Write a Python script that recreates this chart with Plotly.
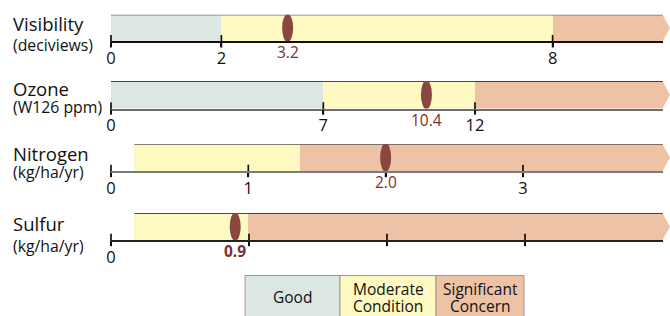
import plotly.graph_objects as go

# ---------------- data ----------------
indicators = ["Visibility", "Ozone", "Nitrogen", "Sulfur"]
units = ["(deciviews)", "(W126 ppm)", "(kg/ha/yr)", "(kg/ha/yr)"]
values = [3.2, 10.4, 2.0, 0.9]
value_labels = ["3.2", "10.4", "2.0", "0.9"]
scale_max = [10.0, 18.2, 4.02, 4.0]
# condition segments per indicator: (start, end) or None
good_seg = [(0, 2), (0, 7), None, None]
moderate_seg = [(2, 8), (7, 12), (0.17, 1.38), (0.17, 0.99)]
concern_start = [8, 12, 1.38, 0.99]
tick_vals = [[0, 2, 8], [0, 7, 12], [0, 1, 2, 3], [0, 1, 2, 3]]
tick_text = [["0", "2", "8"], ["0", "7", "12"], ["0", "1", "", "3"], ["0", "", "", ""]]
legend_lines = [["Good"], ["Moderate", "Condition"], ["Significant", "Concern"]]

# ---------------- styles ----------------
W, H = 670, 316
C_GOOD = "#dce6e2"
C_MOD = "#fef8c1"
C_CON = "#edc2a5"
C_MARK = "#8b463f"
C_VTXT = "#7e2e2e"
FONT = "Open Sans"
row_px = [(14.7, 41.3), (81, 108.5), (144, 171), (213.3, 240)]  # top, bottom
x_px = (111, 663)
tip_px = 670
top_line_col = ["#7a7a7a", "#111111", "#555555", "#111111"]
axis_line_col = ["#111111", "#6e6e6e", "#7a7a7a", "#222222"]
title_y = [23.5, 89, 153, 223]
sub_y = [45, 107, 172, 246]
bold_value = [False, False, False, True]


def px_x(x):
    return x / W


def px_y(y):
    return 1 - y / H


fig = go.Figure()
shapes = []
annotations = []
layout_axes = {}

for i, name in enumerate(indicators):
    n = i + 1
    xa = "x" if n == 1 else f"x{n}"
    ya = "y" if n == 1 else f"y{n}"
    segs = []
    if good_seg[i]:
        segs.append((good_seg[i][0], good_seg[i][1], C_GOOD))
    segs.append((moderate_seg[i][0], moderate_seg[i][1], C_MOD))
    segs.append((concern_start[i], scale_max[i], C_CON))
    for s, e, c in segs:
        fig.add_trace(go.Bar(
            orientation="h", y=[0], x=[e - s], base=[s], width=[1],
            marker=dict(color=c, line=dict(width=0)),
            xaxis=xa, yaxis=ya, showlegend=False, hoverinfo="skip"))
    # tick marks straddling the axis line
    fig.add_trace(go.Scatter(
        x=tick_vals[i], y=[-0.5] * len(tick_vals[i]), mode="markers",
        marker=dict(symbol="line-ns", size=9, line=dict(width=1.7, color="#111")),
        xaxis=xa, yaxis=ya, showlegend=False, hoverinfo="skip", cliponaxis=False))

    top, bot = row_px[i]
    layout_axes["xaxis" if n == 1 else f"xaxis{n}"] = dict(
        domain=[px_x(x_px[0]), px_x(x_px[1])], range=[0, scale_max[i]],
        anchor=ya, showline=True, linecolor=axis_line_col[i], linewidth=1.5,
        ticks="outside", ticklen=4, tickwidth=1.7, tickcolor="#111",
        ticklabelstandoff=-3, automargin=False,
        tickvals=tick_vals[i], ticktext=tick_text[i],
        tickfont=dict(family=FONT, size=16.5, color="#111"),
        showgrid=False, zeroline=False, fixedrange=True)
    layout_axes["yaxis" if n == 1 else f"yaxis{n}"] = dict(
        domain=[px_y(bot), px_y(top)], range=[-0.5, 0.5], anchor=xa,
        visible=False, fixedrange=True, automargin=False)

    first_start = segs[0][0]
    # top border line
    shapes.append(dict(type="line", xref=xa, yref=ya, x0=first_start, x1=scale_max[i],
                       y0=0.5, y1=0.5, line=dict(color=top_line_col[i], width=1.5)))
    # arrow tip at the end of the scale (decoration, paper coords)
    mid = (top + bot) / 2
    shapes.append(dict(type="path", xref="paper", yref="paper",
                       path=(f"M{px_x(x_px[1] - 0.5)},{px_y(top)} L{px_x(tip_px)},{px_y(mid)} "
                             f"L{px_x(x_px[1] - 0.5)},{px_y(bot)} Z"),
                       fillcolor=C_CON, line=dict(width=0)))
    # value ellipse
    shapes.append(dict(type="circle", xref=xa, yref=ya, xsizemode="pixel",
                       xanchor=values[i], x0=-5.5, x1=5.5, y0=-0.53, y1=0.53,
                       fillcolor=C_MARK, line=dict(width=0)))
    vt = f"<b>{value_labels[i]}</b>" if bold_value[i] else value_labels[i]
    annotations.append(dict(xref=xa, yref=ya, x=values[i], y=-0.5, yanchor="top",
                            xanchor="center", yshift=2, text=vt, showarrow=False,
                            font=dict(family=FONT, size=15.5, color=C_VTXT)))
    # left labels
    annotations.append(dict(xref="paper", yref="paper", x=px_x(10.5), y=px_y(title_y[i]),
                            xanchor="left", yanchor="middle", text=name, showarrow=False,
                            font=dict(family=FONT, size=18.5, color="#111")))
    annotations.append(dict(xref="paper", yref="paper", x=px_x(10.5), y=px_y(sub_y[i]),
                            xanchor="left", yanchor="middle", text=units[i], showarrow=False,
                            font=dict(family=FONT, size=15.8, color="#111")))

# legend boxes
leg_x = [245, 340, 436, 524]
leg_cols = [C_GOOD, C_MOD, C_CON]
for j, lines in enumerate(legend_lines):
    shapes.append(dict(type="rect", xref="paper", yref="paper",
                       x0=px_x(leg_x[j]), x1=px_x(leg_x[j + 1]), y0=px_y(317), y1=px_y(275.5),
                       fillcolor=leg_cols[j], line=dict(color="#9a9a9a", width=1)))
    cx = px_x((leg_x[j] + leg_x[j + 1]) / 2)
    ys = [297] if len(lines) == 1 else [288.5, 306]
    for ln, yy in zip(lines, ys):
        annotations.append(dict(xref="paper", yref="paper", x=cx, y=px_y(yy),
                                xanchor="center", yanchor="middle", text=ln, showarrow=False,
                                font=dict(family=FONT, size=15.5, color="#111")))

fig.update_layout(
    template="none",
    width=W, height=H, margin=dict(l=0, r=0, t=0, b=0, pad=0), autosize=False,
    paper_bgcolor="white", plot_bgcolor="rgba(0,0,0,0)",
    barmode="overlay", bargap=0, showlegend=False,
    shapes=shapes, annotations=annotations, **layout_axes)

fig.write_html(
    "out.html", config={"displayModeBar": False},
    post_script="document.body.style.margin='0';document.body.style.overflow='hidden';"
                "document.documentElement.style.overflow='hidden';")
